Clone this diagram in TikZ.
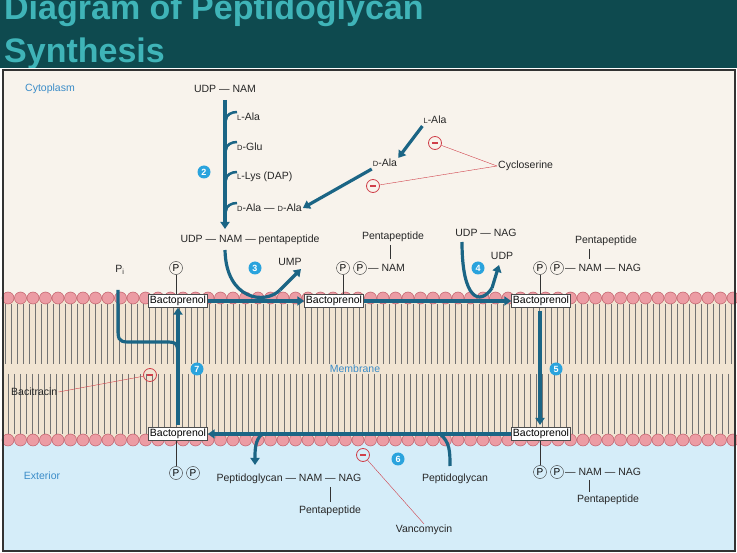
\documentclass[tikz,border=0pt]{standalone}
\usepackage{fontspec}
\setmainfont{Liberation Sans}
\usetikzlibrary{arrows.meta}
\definecolor{arr}{HTML}{1B6585}
\definecolor{stepc}{HTML}{2AA3DD}
\definecolor{inh}{HTML}{D0404A}
\definecolor{cyto}{HTML}{F8F3EC}
\definecolor{memb}{HTML}{F1E4D2}
\definecolor{ext}{HTML}{D5EDF9}
\definecolor{head}{HTML}{EC9CA4}
\definecolor{headd}{HTML}{C05D68}
\definecolor{titlebg}{HTML}{0E4A4F}
\definecolor{titlefg}{HTML}{3FB4B8}
\definecolor{lbl}{HTML}{3A8CC8}
\newcommand{\smc}[1]{{\fontsize{7.5}{8}\selectfont #1}}
\begin{document}
\begin{tikzpicture}[x=1pt,y=-1pt,
  txt/.style={font=\fontsize{10.5}{12}\selectfont,inner sep=1pt,text=black!85},
  bp/.style={draw=black!70,fill=white,font=\fontsize{10.5}{12}\selectfont,inner sep=1.5pt},
  pc/.style={circle,draw=black!80,inner sep=0pt,minimum size=13pt,font=\fontsize{10}{10}\selectfont},
  stepn/.style={circle,fill=stepc,text=white,inner sep=0pt,minimum size=13pt,font=\bfseries\fontsize{9}{9}\selectfont},
  minus/.style={circle,draw=inh,thick,inner sep=0pt,minimum size=13pt},
  flow/.style={draw=arr,line width=3.2pt,-{Triangle[length=7pt,width=9pt]}},
  flown/.style={draw=arr,line width=3.2pt},
  inl/.style={draw=inh,thin},
  thin line/.style={draw=black!80,thin}]
\useasboundingbox (0,0) rectangle (737,553);
% title
\fill[titlebg] (0,0) rectangle (737,68);
\begin{scope}
\clip (0,0) rectangle (737,68);
\node[anchor=base west,text=titlefg,font=\bfseries\fontsize{34}{34}\selectfont,inner sep=0] (t1) at (4,20) {Diagram of Peptidoglycan};
\node[anchor=base west,text=titlefg,font=\bfseries\fontsize{34}{34}\selectfont,inner sep=0] (t2) at (4,63) {Synthesis};
\end{scope}
% panels
\fill[cyto] (3,70) rectangle (735,298);
\fill[memb] (3,298) rectangle (735,440);
\fill[ext] (3,440) rectangle (735,551);
\foreach \x in {5,11,...,735} {
  \draw[black!55,line width=0.5pt] (\x,304) -- (\x,364);
  \draw[black!55,line width=0.5pt] (\x+3,374) -- (\x+3,434);
}
\foreach \x in {8,20.5,...,735} {
  \draw[headd,fill=head,line width=0.5pt] (\x,298) circle (6);
  \draw[headd,fill=head,line width=0.5pt] (\x,440) circle (6);
}
\draw[black!80,line width=1.2pt] (3,70) rectangle (735,551);
% region labels
\node[txt,text=lbl] (cy) at (50,89) {Cytoplasm};
\node[txt,text=lbl] (ex) at (42,476) {Exterior};
\node[txt,text=lbl] (mb) at (355,369) {Membrane};
% step 2
\node[txt] (udpnam) at (225,89) {UDP — NAM};
\node[txt,anchor=west] (la) at (236,117) {\smc{L}-Ala};
\node[txt,anchor=west] (dg) at (236,147) {\smc{D}-Glu};
\node[txt,anchor=west] (ll) at (236,177) {\smc{L}-Lys (DAP)};
\node[txt,anchor=west] (dd) at (236,208) {\smc{D}-Ala — \smc{D}-Ala};
\node[txt] (unp) at (250,240) {UDP — NAM — pentapeptide};
\draw[flow] (225,100) -- (225,229);
\foreach \y in {117,147,177,208} \draw[flown,line width=2.5pt] (237,\y-5) to[out=180,in=90] (226,\y+3);
\node[stepn] (s2) at (204,172) {2};
\node[txt] (lala) at (435,120) {\smc{L}-Ala};
\node[txt] (dala) at (385,163) {\smc{D}-Ala};
\draw[flow] (lala.south west) ++(0,1) -- (dala.north east);
\draw[flow] (dala.south west) ++(0,1) -- (dd.east);
\node[minus] (m1) at (435,143) {};
\node[minus] (m2) at (373,186) {};
\node[txt,anchor=west] (cyc) at (497,166) {Cycloserine};
\draw[inl] (m1) -- (cyc.west);
\draw[inl] (m2) -- (cyc.west);
% bactoprenols
\node[bp] (b1) at (178,301) {Bactoprenol};
\node[bp] (b2) at (334,301) {Bactoprenol};
\node[bp] (b3) at (541,301) {Bactoprenol};
\node[bp] (b4) at (178,434) {Bactoprenol};
\node[bp] (b5) at (541,434) {Bactoprenol};
% step 3
\node[pc] (p1) at (176,268) {P};
\draw[thin line] (p1) -- (p1 |- b1.north);
\node[txt] (pi) at (120,270) {P\textsubscript{i}};
\node[txt] (ump) at (290,262) {UMP};
\node[stepn] (s3) at (255,268) {3};
\draw[flown] (225,250) .. controls (226,300) and (265,305) .. (280,290);
\draw[flow] (280,290) -- (301,269);
\draw[flow] (b1.east) -- (b2.west);
\node[pc] (p2a) at (343,268) {P};
\node[pc] (p2b) at (360,268) {P};
\node[txt,anchor=west] (nam2) at (367,268) {— NAM};
\node[txt] (pen2) at (393,237) {Pentapeptide};
\draw[thin line] (390,245) -- (390,259);
\draw[thin line] (p2a) -- (p2a |- b2.north);
% step 4
\node[txt] (udpnag) at (486,233) {UDP — NAG};
\node[txt] (udp) at (502,256) {UDP};
\node[stepn] (s4) at (478,268) {4};
\draw[flown] (462,242) .. controls (462,300) and (480,306) .. (492,288);
\draw[flow] (492,288) -- (499,265);
\draw[flow] (b2.east) -- (b3.west);
\node[pc] (p3a) at (540,268) {P};
\node[pc] (p3b) at (557,268) {P};
\node[txt,anchor=west] (nam3) at (564,268) {— NAM — NAG};
\node[txt] (pen3) at (606,241) {Pentapeptide};
\draw[thin line] (589,249) -- (589,259);
\draw[thin line] (p3a) -- (p3a |- b3.north);
% step 5
\draw[flow] (540,311) -- (540,425);
\node[stepn] (s5) at (556,369) {5};
% step 6
\draw[flow] (b5.west) -- (b4.east);
\draw[flow] (262,434) .. controls (255,440) and (255,450) .. (255,465);
\draw[flown] (440,434) .. controls (450,442) and (450,452) .. (450,466);
\node[txt] (pg1) at (289,479) {Peptidoglycan — NAM — NAG};
\node[txt] (pen6) at (330,511) {Pentapeptide};
\draw[thin line] (330,487) -- (330,502);
\node[txt] (pg2) at (455,479) {Peptidoglycan};
\node[minus] (m3) at (363,455) {};
\node[txt] (van) at (424,530) {Vancomycin};
\draw[inl] (m3) -- (van.north);
\node[stepn] (s6) at (398,459) {6};
\node[pc] (p4a) at (176,473) {P};
\node[pc] (p4b) at (193,473) {P};
\draw[thin line] (p4a) -- (p4a |- b4.south);
\node[pc] (p5a) at (540,472) {P};
\node[pc] (p5b) at (557,472) {P};
\node[txt,anchor=west] (nam5) at (564,472) {— NAM — NAG};
\node[txt] (pen5) at (608,500) {Pentapeptide};
\draw[thin line] (589,480) -- (589,492);
\draw[thin line] (p5a) -- (p5a |- b5.south);
% step 7
\draw[flow] (178,425) -- (b1.south -| 178,0);
\draw[flown] (178,355) .. controls (178,342) and (175,342) .. (165,342) -- (128,342) .. controls (118,342) and (118,338) .. (118,328) -- (118,290);
\node[stepn] (s7) at (197,369) {7};
\node[minus] (m4) at (150,375) {};
\node[txt,anchor=west] (bac) at (10,392) {Bacitracin};
\draw[inl] (bac.east) -- (m4);
\foreach \m in {m1,m2,m3,m4} \draw[inh,line width=1.2pt] ([xshift=-3pt]\m.center) -- ([xshift=3pt]\m.center);
\end{tikzpicture}
\end{document}
